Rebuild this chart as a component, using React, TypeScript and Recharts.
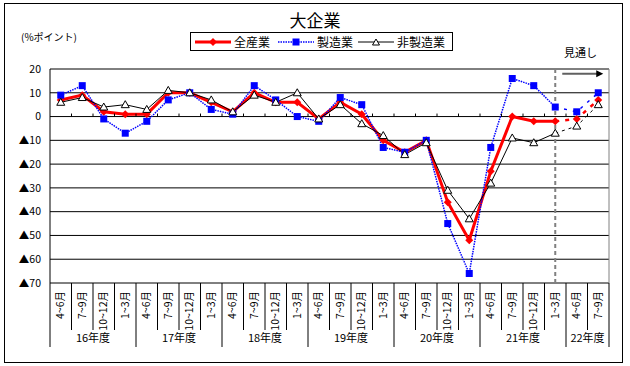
import React from "react";
import {
  CartesianGrid,
  Line,
  LineChart,
  ReferenceLine,
  XAxis,
  YAxis,
} from "recharts";

const fiscalYears = ["16年度", "17年度", "18年度", "19年度", "20年度", "21年度", "22年度"];
const quartersPerYear = [4, 4, 4, 4, 4, 4, 2];
const quarterNames = ["4~6月", "7~9月", "10~12月", "1~3月"];

// 全産業 / 製造業 / 非製造業 (DI, %ポイント)
const allIndustries = [7, 9, 2, 1, 1, 10, 10, 6, 2, 10, 6, 6, -1, 6, 1, -10, -15, -10, -36, -52, -23, 0, -2, -2, -1, 7];
const manufacturing = [9, 13, -1, -7, -2, 7, 10, 3, 1, 13, 7, 0, -2, 8, 5, -13, -15, -10, -45, -66, -13, 16, 13, 4, 2, 10];
const nonManufacturing = [6, 8, 4, 5, 3, 11, 10, 7, 2, 9, 6, 10, -1, 5, -3, -8, -16, -11, -31, -43, -28, -9, -11, -7, -4, 5];

// index of 21年度 1~3月: last actual value, forecast starts from here
const forecastFrom = 23;

const yTicks = [20, 10, 0, -10, -20, -30, -40, -50, -60, -70];

const W = 630;
const H = 366;
const PLOT_LEFT = 50;
const PLOT_RIGHT = 609;
const PLOT_TOP = 69;
const PLOT_BOTTOM = 283;

const JP_FONT = '"Noto Sans CJK JP", "Noto Sans", sans-serif';

type Row = {
  key: string;
  quarter: string;
  year: number;
  all: number | null;
  mfg: number | null;
  non: number | null;
  allF: number | null;
  mfgF: number | null;
  nonF: number | null;
};

const rows: Row[] = [];
fiscalYears.forEach((_, yi) => {
  for (let q = 0; q < quartersPerYear[yi]; q++) {
    const i = rows.length;
    const actual = i <= forecastFrom;
    const fc = i >= forecastFrom;
    rows.push({
      key: `${yi}-${q}`,
      quarter: quarterNames[q],
      year: yi,
      all: actual ? allIndustries[i] : null,
      mfg: actual ? manufacturing[i] : null,
      non: actual ? nonManufacturing[i] : null,
      allF: fc ? allIndustries[i] : null,
      mfgF: fc ? manufacturing[i] : null,
      nonF: fc ? nonManufacturing[i] : null,
    });
  }
});

const groupStarts: number[] = [];
quartersPerYear.reduce((acc, n) => {
  groupStarts.push(acc);
  return acc + n;
}, 0);

const BAND = (PLOT_RIGHT - PLOT_LEFT) / rows.length;
const ZERO_Y = PLOT_TOP + ((20 - 0) / 90) * (PLOT_BOTTOM - PLOT_TOP);

function formatY(v: number) {
  return v < 0 ? `▲${Math.abs(v)}` : String(v);
}

function XTick(props: any) {
  const { x, y, payload } = props;
  const i = payload.index as number;
  const row = rows[i];
  const left = x - BAND / 2;
  const right = x + BAND / 2;
  const yi = row.year;
  const isStart = groupStarts[yi] === i;
  const isLast = i === rows.length - 1;
  const n = quartersPerYear[yi];
  return (
    <g>
      <line x1={left} x2={left} y1={y} y2={isStart ? y + 64 : y + 47} stroke="#000" />
      {isLast ? <line x1={right} x2={right} y1={y} y2={y + 64} stroke="#000" /> : null}
      {i > 0 ? <line x1={left} x2={left} y1={ZERO_Y - 3} y2={ZERO_Y} stroke="#000" /> : null}
      <text
        x={x - 1}
        y={y + 8}
        transform={`rotate(-90 ${x - 1} ${y + 8})`}
        textAnchor="end"
        dominantBaseline="central"
        fontSize={10.5}
        fontFamily={JP_FONT}
        fill="#000"
      >
        {row.quarter}
      </text>
      {isStart ? (
        <text
          x={x + ((n - 1) / 2) * BAND}
          y={y + 59}
          textAnchor="middle"
          fontSize={11}
          fontFamily={JP_FONT}
          fill="#000"
        >
          {fiscalYears[yi]}
        </text>
      ) : null}
    </g>
  );
}

function Diamond({ cx, cy }: any) {
  if (cx == null || cy == null) return <g />;
  return <path d={`M${cx},${cy - 4}L${cx + 4},${cy}L${cx},${cy + 4}L${cx - 4},${cy}Z`} fill="#ff0000" />;
}

function Square({ cx, cy }: any) {
  if (cx == null || cy == null) return <g />;
  return <rect x={cx - 3.5} y={cy - 3.5} width={7} height={7} fill="#0000ff" />;
}

function Triangle({ cx, cy }: any) {
  if (cx == null || cy == null) return <g />;
  return <path d={`M${cx},${cy - 4}L${cx + 4},${cy + 3}L${cx - 4},${cy + 3}Z`} fill="#fff" stroke="#000" strokeWidth={1} />;
}

function forecastDot(Marker: (p: any) => React.ReactElement) {
  return (p: any) => {
    if (p.index <= forecastFrom) return <g key={p.index} />;
    return <Marker key={p.index} {...p} />;
  };
}

function Arrow(props: any) {
  const { x1, y1, x2 } = props;
  const sx = x1 + 7;
  const ex = x2 + 5;
  return (
    <g>
      <line x1={sx} x2={ex - 6} y1={y1} y2={y1} stroke="#606060" strokeWidth={2} />
      <path d={`M${ex},${y1}L${ex - 7},${y1 - 3.5}L${ex - 7},${y1 + 3.5}Z`} fill="#000" />
    </g>
  );
}

function LegendBox() {
  const item = (icon: React.ReactNode, label: string, gap: number) => (
    <div style={{ display: "flex", alignItems: "center", marginRight: gap, whiteSpace: "nowrap", flexShrink: 0 }}>
      <svg width={36} height={10} style={{ marginRight: 3, flexShrink: 0 }}>
        {icon}
      </svg>
      <span>{label}</span>
    </div>
  );
  return (
    <div
      style={{
        position: "absolute",
        left: 190,
        top: 32,
        width: 263,
        height: 19,
        border: "1px solid #000",
        boxSizing: "border-box",
        display: "flex",
        alignItems: "center",
        paddingLeft: 4,
        fontSize: 12,
        fontFamily: JP_FONT,
        lineHeight: "12px",
        background: "#fff",
        whiteSpace: "nowrap",
        overflow: "hidden",
      }}
    >
      {item(
        <>
          <line x1={0} x2={36} y1={5} y2={5} stroke="#ff0000" strokeWidth={3} />
          <path d="M18,1L22,5L18,9L14,5Z" fill="#ff0000" />
        </>,
        "全産業",
        8,
      )}
      {item(
        <>
          <line x1={0} x2={36} y1={5} y2={5} stroke="#0000ff" strokeWidth={1.5} strokeDasharray="1.5 1" />
          <rect x={14.5} y={1.5} width={7} height={7} fill="#0000ff" />
        </>,
        "製造業",
        5,
      )}
      {item(
        <>
          <line x1={0} x2={36} y1={5} y2={5} stroke="#000" strokeWidth={1} />
          <path d="M18,2L21.5,8L14.5,8Z" fill="#fff" stroke="#000" />
        </>,
        "非製造業",
        0,
      )}
    </div>
  );
}

export default function App() {
  const keys = rows.map((r) => r.key);
  return (
    <div style={{ position: "absolute", left: 0, top: 0, width: W, height: H, background: "#fff" }}>
      <div
        style={{
          position: "absolute",
          left: 4,
          top: 3,
          width: 619,
          height: 360,
          border: "1px solid #000",
          boxSizing: "border-box",
        }}
      />
      <div
        style={{
          position: "absolute",
          left: 0,
          width: W,
          top: 10,
          textAlign: "center",
          fontSize: 17,
          fontFamily: JP_FONT,
          lineHeight: "20px",
        }}
      >
        大企業
      </div>
      <div style={{ position: "absolute", left: 21, top: 30, fontSize: 10, fontFamily: JP_FONT, lineHeight: "14px" }}>
        (%ポイント)
      </div>
      <div style={{ position: "absolute", left: 564, top: 45, fontSize: 11, fontFamily: JP_FONT, lineHeight: "14px" }}>
        見通し
      </div>
      <LegendBox />
      <div style={{ position: "absolute", left: 0, top: 0 }}>
        <LineChart width={W} height={H} data={rows} margin={{ top: PLOT_TOP, right: W - PLOT_RIGHT, left: 0, bottom: 0 }}>
          <CartesianGrid vertical={false} stroke="#000" strokeWidth={1} />
          <XAxis
            dataKey="key"
            scale="band"
            interval={0}
            tick={<XTick />}
            tickLine={false}
            axisLine={false}
            tickSize={0}
            tickMargin={0}
            height={H - PLOT_BOTTOM}
          />
          <YAxis
            type="number"
            domain={[-70, 20]}
            ticks={yTicks}
            interval={0}
            width={PLOT_LEFT}
            tickLine={false}
            tickSize={0}
            tickMargin={9}
            axisLine={{ stroke: "#000" }}
            tickFormatter={formatY}
            tick={{ fontSize: 10.5, fill: "#000", fontFamily: JP_FONT }}
          />
          <ReferenceLine y={20} stroke="#808080" />
          <ReferenceLine y={-70} stroke="#808080" />
          <ReferenceLine x={keys[keys.length - 1]} position="end" stroke="#808080" />
          <ReferenceLine x={keys[forecastFrom]} stroke="#808080" strokeWidth={2} strokeDasharray="4 3" />
          <ReferenceLine
            segment={[
              { x: keys[forecastFrom], y: 18 },
              { x: keys[keys.length - 1], y: 18 },
            ]}
            shape={<Arrow />}
          />

          <Line
            dataKey="allF"
            stroke="#ff0000"
            strokeWidth={2.5}
            strokeDasharray="4 6"
            dot={forecastDot(Diamond)}
            activeDot={false}
            isAnimationActive={false}
            type="linear"
          />
          <Line
            dataKey="mfgF"
            stroke="#0000ff"
            strokeWidth={1.5}
            strokeDasharray="3 6"
            dot={forecastDot(Square)}
            activeDot={false}
            isAnimationActive={false}
            type="linear"
          />
          <Line
            dataKey="nonF"
            stroke="#000"
            strokeWidth={1}
            strokeDasharray="3 4"
            dot={forecastDot(Triangle)}
            activeDot={false}
            isAnimationActive={false}
            type="linear"
          />

          <Line
            dataKey="all"
            stroke="#ff0000"
            strokeWidth={3}
            dot={<Diamond />}
            activeDot={false}
            isAnimationActive={false}
            type="linear"
          />
          <Line
            dataKey="mfg"
            stroke="#0000ff"
            strokeWidth={1.5}
            strokeDasharray="1.5 1"
            dot={<Square />}
            activeDot={false}
            isAnimationActive={false}
            type="linear"
          />
          <Line
            dataKey="non"
            stroke="#000"
            strokeWidth={1}
            dot={<Triangle />}
            activeDot={false}
            isAnimationActive={false}
            type="linear"
          />
        </LineChart>
      </div>
    </div>
  );
}
